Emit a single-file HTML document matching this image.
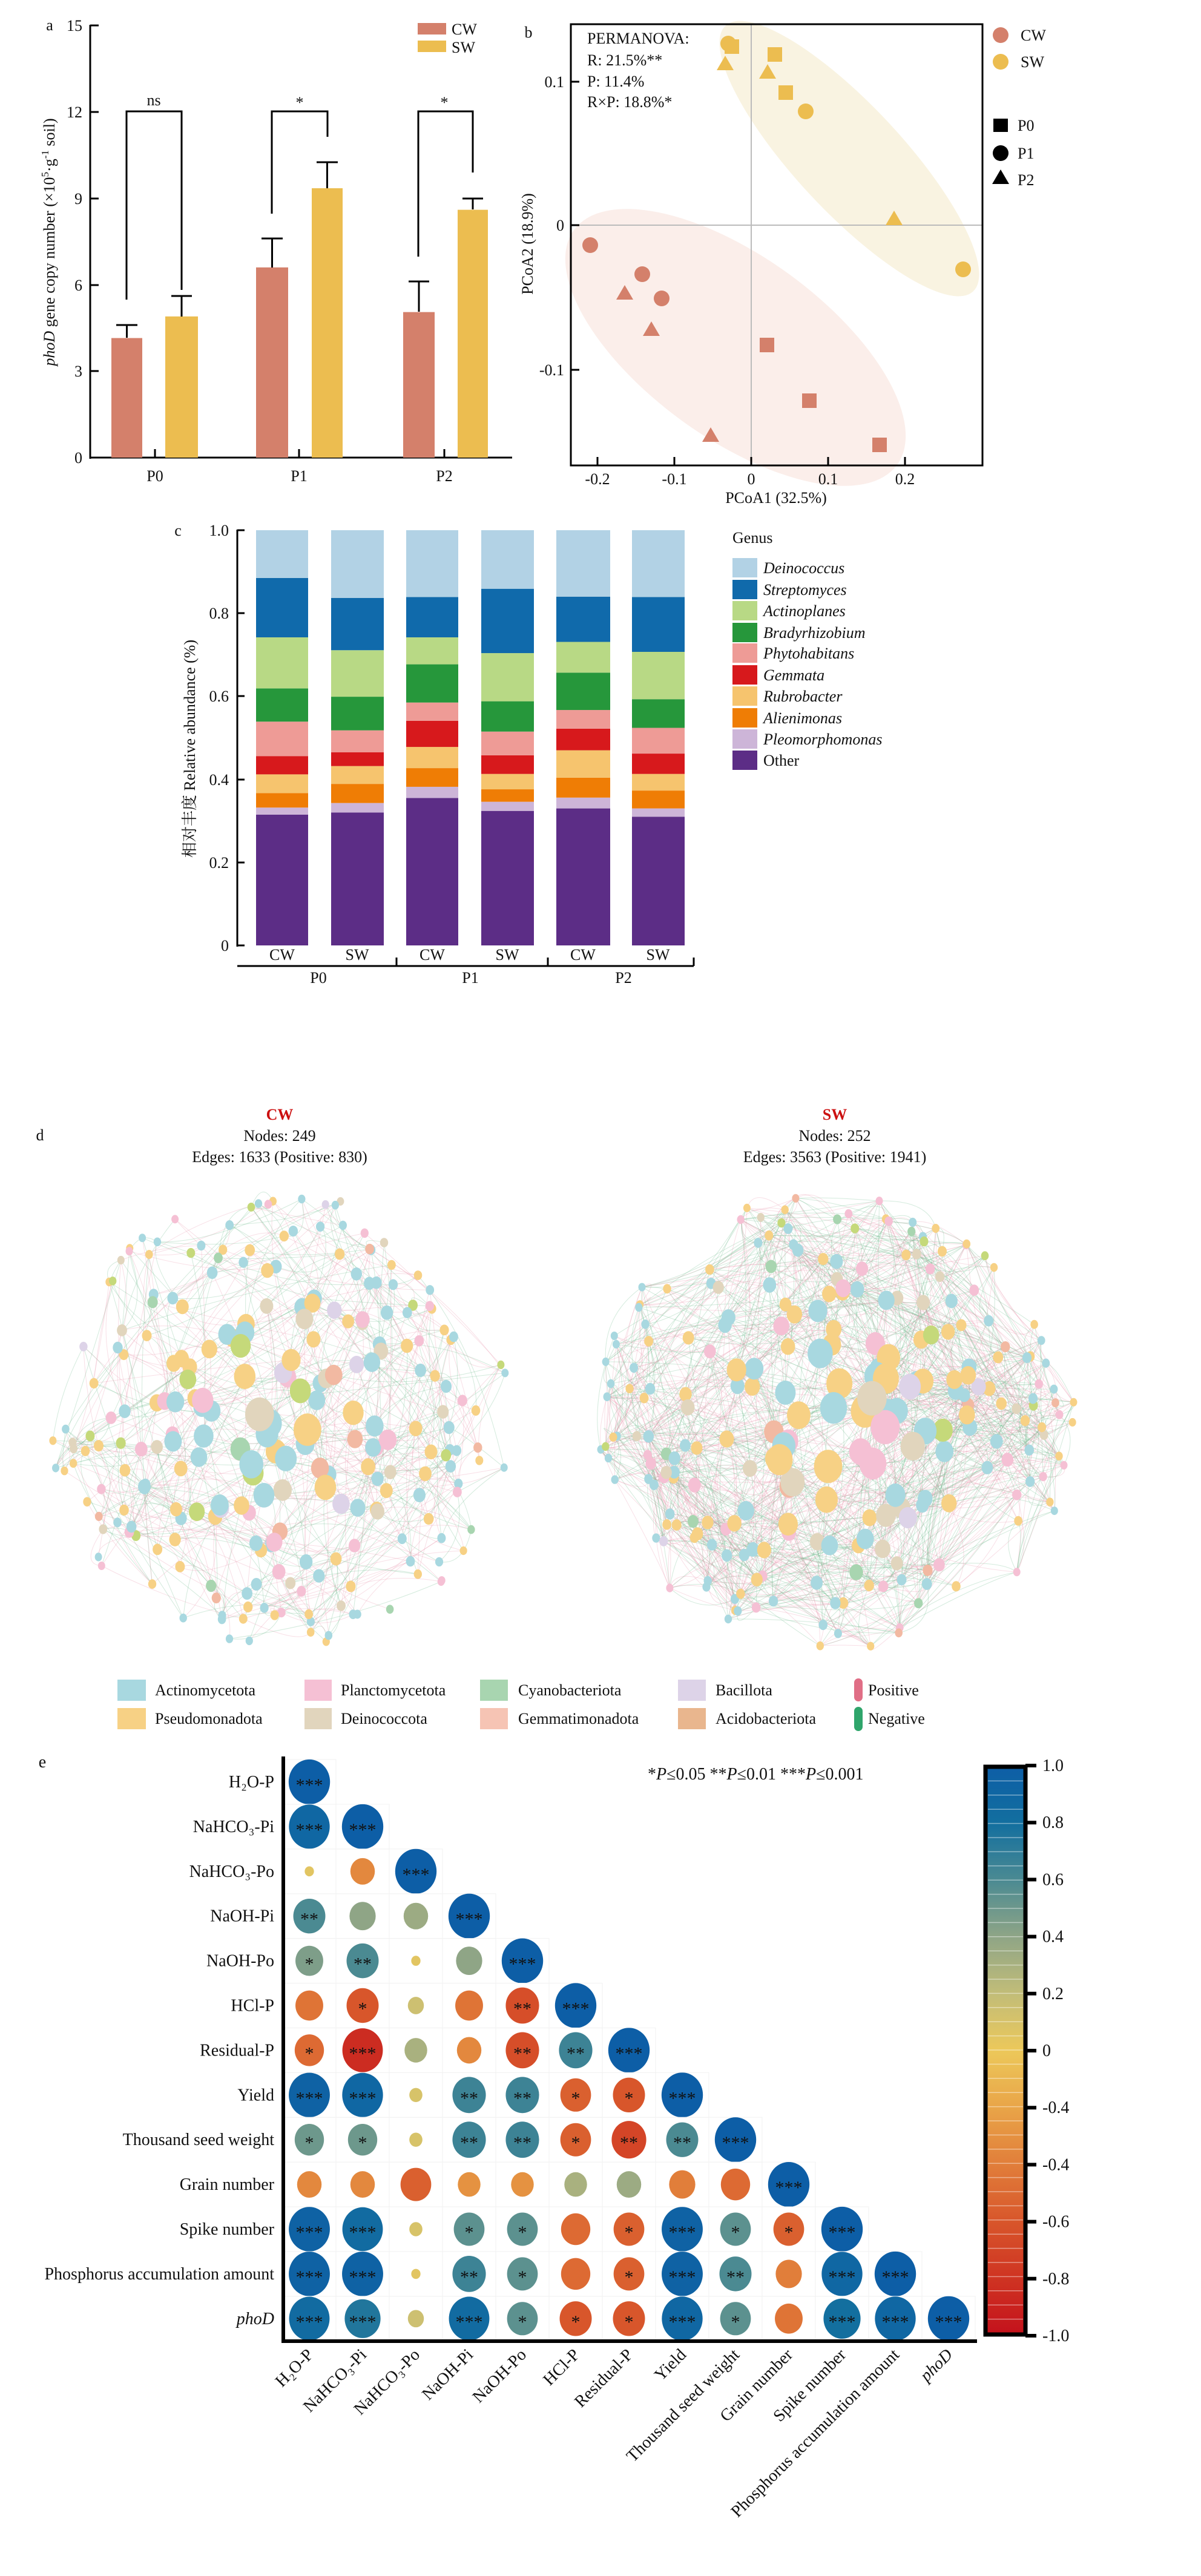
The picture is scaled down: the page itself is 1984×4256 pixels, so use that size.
<!DOCTYPE html>
<html><head><meta charset="utf-8">
<style>
html,body{margin:0;padding:0;background:#fff;}
svg{display:block;}
text{font-family:"Liberation Serif","Noto Serif CJK SC",serif;fill:#111;}
</style></head>
<body>
<svg id="s" width="1984" height="4256" viewBox="0 0 1984 4256" xmlns="http://www.w3.org/2000/svg">
<rect width="1984" height="4256" fill="#fff"/>

<!-- ===== Panel a ===== -->
<g font-size="26">
<text x="82" y="50" text-anchor="middle">a</text>
<g stroke="#000" stroke-width="3" fill="none">
<line x1="149" y1="41" x2="149" y2="758"/>
<line x1="148" y1="756" x2="846" y2="756"/>
<line x1="149" y1="42" x2="163" y2="42"/>
<line x1="149" y1="185" x2="163" y2="185"/>
<line x1="149" y1="328" x2="163" y2="328"/>
<line x1="149" y1="471" x2="163" y2="471"/>
<line x1="149" y1="613" x2="163" y2="613"/>
<line x1="256" y1="756" x2="256" y2="742"/>
<line x1="494" y1="756" x2="494" y2="742"/>
<line x1="734" y1="756" x2="734" y2="742"/>
</g>
<g text-anchor="end">
<text x="136" y="51">15</text><text x="136" y="194">12</text><text x="136" y="337">9</text>
<text x="136" y="480">6</text><text x="136" y="622">3</text><text x="136" y="765">0</text>
</g>
<g text-anchor="middle">
<text x="256" y="795">P0</text><text x="494" y="795">P1</text><text x="734" y="795">P2</text>
</g>
<rect x="184" y="558.5" width="51" height="197.5" fill="#d4806b"/>
<rect x="273" y="522.8" width="54" height="233.2" fill="#ecbd50"/>
<rect x="423" y="441.8" width="53" height="314.2" fill="#d4806b"/>
<rect x="515" y="311" width="51" height="445" fill="#ecbd50"/>
<rect x="666" y="515.6" width="52" height="240.4" fill="#d4806b"/>
<rect x="756" y="346.6" width="50" height="409.4" fill="#ecbd50"/>
<g stroke="#000" stroke-width="3" fill="none">
<path d="M209.5 558 V537 M192 537 H227"/>
<path d="M300 523 V489 M283 489 H317"/>
<path d="M449.5 442 V394 M432 394 H467"/>
<path d="M540.5 311 V268 M523 268 H558"/>
<path d="M692 515 V465 M675 465 H709"/>
<path d="M781 346 V328 M764 328 H798"/>
<path d="M209 495 V184 H300 V479"/>
<path d="M449 353 V184 H541 V226"/>
<path d="M691 424 V184 H781 V285"/>
</g>
<text x="254" y="174" text-anchor="middle">ns</text>
<text x="495" y="178" text-anchor="middle">*</text>
<text x="734" y="178" text-anchor="middle">*</text>
<rect x="690" y="38" width="47" height="19" fill="#d4806b"/>
<rect x="690" y="67" width="47" height="19" fill="#ecbd50"/>
<text x="746" y="57">CW</text><text x="746" y="87">SW</text>
<text transform="translate(90,400) rotate(-90)" text-anchor="middle"><tspan font-style="italic">phoD</tspan> gene copy number (×10<tspan font-size="17" dy="-10">5</tspan><tspan dy="10">·g</tspan><tspan font-size="17" dy="-10">-1</tspan><tspan dy="10"> soil)</tspan></text>
</g>

<!-- ===== Panel b ===== -->
<g font-size="26">
<text x="873" y="62" text-anchor="middle">b</text>
<ellipse cx="1403" cy="262" rx="300" ry="88" transform="rotate(47 1403 262)" fill="#f9f3e1"/>
<ellipse cx="1215" cy="574" rx="330" ry="150" transform="rotate(36 1215 574)" fill="#fbeeea"/>
<g stroke="#bbb" stroke-width="2">
<line x1="1241" y1="40" x2="1241" y2="769"/><line x1="943" y1="372" x2="1623" y2="372"/>
</g>
<rect x="943" y="40" width="680" height="729" fill="none" stroke="#000" stroke-width="3"/>
<g stroke="#000" stroke-width="3">
<line x1="943" y1="135" x2="957" y2="135"/><line x1="943" y1="372" x2="957" y2="372"/><line x1="943" y1="611" x2="957" y2="611"/>
<line x1="987" y1="769" x2="987" y2="755"/><line x1="1114" y1="769" x2="1114" y2="755"/><line x1="1241" y1="769" x2="1241" y2="755"/><line x1="1368" y1="769" x2="1368" y2="755"/><line x1="1495" y1="769" x2="1495" y2="755"/>
</g>
<g text-anchor="end"><text x="932" y="144">0.1</text><text x="932" y="381">0</text><text x="932" y="620">-0.1</text></g>
<g text-anchor="middle"><text x="987" y="800">-0.2</text><text x="1114" y="800">-0.1</text><text x="1241" y="800">0</text><text x="1368" y="800">0.1</text><text x="1495" y="800">0.2</text>
<text x="1282" y="831">PCoA1 (32.5%)</text>
<text transform="translate(880,403) rotate(-90)">PCoA2 (18.9%)</text></g>
<text x="970" y="72">PERMANOVA:</text>
<text x="970" y="108">R:  21.5%**</text>
<text x="970" y="143">P:   11.4%</text>
<text x="970" y="177">R×P: 18.8%*</text>
<g fill="#ecbd50">
<circle cx="1203" cy="72" r="13"/><rect x="1197" y="65" width="24" height="24"/><rect x="1268" y="78" width="24" height="24"/>
<polygon points="1198,92 1184,116 1212,116"/><polygon points="1268,106 1254,130 1282,130"/>
<rect x="1286" y="141" width="24" height="24"/><circle cx="1331" cy="184" r="13"/>
<polygon points="1477,348 1463,372 1491,372"/><circle cx="1591" cy="445" r="13"/>
</g>
<g fill="#d4806b">
<circle cx="975" cy="405" r="13"/><circle cx="1061" cy="453" r="13"/><circle cx="1093" cy="493" r="13"/>
<polygon points="1032,471 1018,495 1046,495"/><polygon points="1076,531 1062,555 1090,555"/>
<rect x="1255" y="558" width="24" height="24"/><rect x="1325" y="650" width="24" height="24"/>
<polygon points="1174,706 1160,730 1188,730"/><rect x="1441" y="723" width="24" height="24"/>
</g>
<circle cx="1653" cy="58" r="13" fill="#d4806b"/><circle cx="1653" cy="102" r="13" fill="#ecbd50"/>
<text x="1686" y="67">CW</text><text x="1686" y="111">SW</text>
<rect x="1641" y="196" width="24" height="22" fill="#000"/>
<circle cx="1653" cy="253" r="13" fill="#000"/>
<polygon points="1653,280 1639,304 1667,304" fill="#000"/>
<text x="1681" y="216">P0</text><text x="1681" y="262">P1</text><text x="1681" y="306">P2</text>
</g>

<!-- ===== Panel c ===== -->
<g font-size="26" id="pc">
<text x="294" y="885" text-anchor="middle">c</text>
<g stroke="#000" stroke-width="3">
<line x1="392" y1="875" x2="392" y2="1564"/>
<line x1="392" y1="876" x2="404" y2="876"/><line x1="392" y1="1013" x2="404" y2="1013"/><line x1="392" y1="1150" x2="404" y2="1150"/><line x1="392" y1="1288" x2="404" y2="1288"/><line x1="392" y1="1425" x2="404" y2="1425"/><line x1="392" y1="1562" x2="404" y2="1562"/>
<line x1="392" y1="1596" x2="1146" y2="1596"/>
<line x1="655" y1="1596" x2="655" y2="1582"/><line x1="905" y1="1596" x2="905" y2="1582"/><line x1="1146" y1="1596" x2="1146" y2="1582"/>
</g>
<g text-anchor="end"><text x="378" y="885">1.0</text><text x="378" y="1022">0.8</text><text x="378" y="1159">0.6</text><text x="378" y="1297">0.4</text><text x="378" y="1434">0.2</text><text x="378" y="1571">0</text></g>
<g text-anchor="middle">
<text x="466" y="1586">CW</text><text x="590" y="1586">SW</text><text x="714" y="1586">CW</text><text x="838" y="1586">SW</text><text x="963" y="1586">CW</text><text x="1087" y="1586">SW</text>
<text x="526" y="1624">P0</text><text x="777" y="1624">P1</text><text x="1030" y="1624">P2</text>
<text transform="translate(322,1237) rotate(-90)">相对丰度 Relative abundance (%)</text>
</g>
<text x="1210" y="897">Genus</text>
</g>

<!-- ===== Panel d ===== -->
<g font-size="26" text-anchor="middle">
<text x="66" y="1884">d</text>
<text x="462" y="1850" font-weight="bold" style="fill:#cc1111">CW</text>
<text x="462" y="1885">Nodes: 249</text>
<text x="462" y="1920">Edges: 1633 (Positive: 830)</text>
<text x="1379" y="1850" font-weight="bold" style="fill:#cc1111">SW</text>
<text x="1379" y="1885">Nodes: 252</text>
<text x="1379" y="1920">Edges: 3563 (Positive: 1941)</text>
</g>
<g id="net"></g>
<g font-size="26">
<rect x="194" y="2775" width="47" height="35" fill="#a8d8e0"/><text x="256" y="2801">Actinomycetota</text>
<rect x="503" y="2775" width="45" height="35" fill="#f5c0d4"/><text x="563" y="2801">Planctomycetota</text>
<rect x="793" y="2775" width="46" height="35" fill="#a8d5b0"/><text x="856" y="2801">Cyanobacteriota</text>
<rect x="1120" y="2775" width="46" height="35" fill="#ddd3e8"/><text x="1182" y="2801">Bacillota</text>
<rect x="1411" y="2773" width="14" height="38" rx="7" fill="#e06e86"/><text x="1434" y="2801">Positive</text>
<rect x="194" y="2822" width="47" height="35" fill="#f7d185"/><text x="256" y="2848">Pseudomonadota</text>
<rect x="503" y="2822" width="45" height="35" fill="#e1d5bd"/><text x="563" y="2848">Deinococcota</text>
<rect x="793" y="2822" width="46" height="35" fill="#f6c4b4"/><text x="856" y="2848">Gemmatimonadota</text>
<rect x="1120" y="2822" width="46" height="35" fill="#e9b68e"/><text x="1182" y="2848">Acidobacteriota</text>
<rect x="1411" y="2820" width="14" height="40" rx="7" fill="#2fa56b"/><text x="1434" y="2848">Negative</text>
</g>

<!-- ===== Panel e ===== -->
<defs>
<linearGradient id="cb" x1="0" y1="0" x2="0" y2="1">
<stop offset="0" stop-color="#0d5ea6"/><stop offset="0.1" stop-color="#136f9f"/><stop offset="0.2" stop-color="#4b8a92"/>
<stop offset="0.3" stop-color="#8fa586"/><stop offset="0.4" stop-color="#c2bd78"/><stop offset="0.5" stop-color="#ecc85a"/>
<stop offset="0.6" stop-color="#e9a548"/><stop offset="0.7" stop-color="#e17e3a"/><stop offset="0.8" stop-color="#d8562b"/>
<stop offset="0.9" stop-color="#cf3422"/><stop offset="1" stop-color="#c4121c"/>
</linearGradient>
</defs>
<g font-size="28" id="pe">
<text x="70" y="2920" text-anchor="middle">e</text>
<text x="1070" y="2940"><tspan>*</tspan><tspan font-style="italic">P</tspan><tspan>≤0.05   **</tspan><tspan font-style="italic">P</tspan><tspan>≤0.01   ***</tspan><tspan font-style="italic">P</tspan><tspan>≤0.001</tspan></text>
<rect x="1628" y="2919" width="66" height="938" fill="url(#cb)" stroke="#000" stroke-width="7"/>
</g>
<g stroke="#000" stroke-width="6">
<line x1="468" y1="2902" x2="468" y2="3870"/><line x1="465" y1="3868" x2="1614" y2="3868"/>
</g>
</svg>
<script>
(function(){
var NS="http://www.w3.org/2000/svg",S=document.getElementById('s');
function el(t,a,p){var e=document.createElementNS(NS,t);for(var k in a)e.setAttribute(k,a[k]);(p||S).appendChild(e);return e;}
var xs=[[423,86],[547,87],[671,86],[795,87],[919,89],[1044,87]];
var cols=["#5c2d86","#cdb5d8","#ef7d05","#f6c46e","#d7191c","#ee9b96","#26973b","#b8d985","#106aab","#b2d2e5"];
var B=[[.315,.332,.367,.412,.456,.539,.619,.742,.885,1],[.32,.343,.389,.432,.465,.518,.599,.711,.837,1],[.355,.382,.427,.478,.541,.585,.677,.742,.839,1],[.324,.346,.376,.413,.458,.515,.588,.704,.859,1],[.33,.356,.404,.47,.522,.567,.657,.731,.84,1],[.31,.33,.373,.413,.462,.524,.593,.707,.839,1]];
var pc=document.getElementById('pc');
for(var b=0;b<6;b++){var prev=0;for(var k=0;k<10;k++){var v=B[b][k];var y1=1562-v*686,y0=1562-prev*686;el('rect',{x:xs[b][0],y:y1,width:xs[b][1],height:y0-y1,fill:cols[k]},pc);prev=v;}}
var names=["Deinococcus","Streptomyces","Actinoplanes","Bradyrhizobium","Phytohabitans","Gemmata","Rubrobacter","Alienimonas","Pleomorphomonas","Other"];
var ly=[938,974,1009,1045,1079,1115,1150,1186,1221,1256];
for(var i=0;i<10;i++){el('rect',{x:1210,y:ly[i]-16,width:41,height:32,fill:cols[9-i]},pc);var t=el('text',{x:1261,y:ly[i]+9},pc);t.textContent=names[i];if(i<9)t.setAttribute('font-style','italic');}
var seed=12345;function R(){seed=(seed*1103515245+12345)%2147483648;return seed/2147483648;}
var net=document.getElementById('net');
var pal=[["#a8d8e0",.38],["#f7d185",.30],["#f5c0d4",.12],["#e1d5bd",.06],["#c5d97a",.06],["#a8d5b0",.03],["#ddd3e8",.02],["#f2b9a2",.03]];
function pick(){var r=R(),a=0;for(var i=0;i<pal.length;i++){a+=pal[i][1];if(r<a)return pal[i][0];}return pal[0][0];}
function network(cx,cy,rx,ry,N,E,maxr,dense){
 var nodes=[];
 for(var i=0;i<N;i++){var u=Math.pow(R(),dense),th=R()*6.283;var x=cx+Math.cos(th)*u*rx*0.96,y=cy+Math.sin(th)*u*ry*0.96;
  var r=7+(maxr-7)*Math.pow(Math.max(0,1-u),1.4)*(0.5+0.6*R());nodes.push([x,y,r,pick()]);}
 var g=el('g',{fill:'none','stroke-width':1},net);
 for(var e=0;e<E;e++){var a=nodes[Math.floor(R()*N)],c=null,bd=1e9;
  for(var q=0;q<4;q++){var cc=nodes[Math.floor(R()*N)];var d=Math.hypot(cc[0]-a[0],cc[1]-a[1]);if(d<bd&&cc!==a){bd=d;c=cc;}}
  if(!c)continue;
  var mx=(a[0]+c[0])/2+(R()-.5)*80,my=(a[1]+c[1])/2+(R()-.5)*80;
  el('path',{d:'M'+a[0].toFixed(1)+' '+a[1].toFixed(1)+' Q'+mx.toFixed(1)+' '+my.toFixed(1)+' '+c[0].toFixed(1)+' '+c[1].toFixed(1),stroke:R()<.5?'rgba(232,150,172,0.3)':'rgba(110,185,140,0.3)'},g);}
 nodes.sort(function(p,q){return p[2]-q[2];});
 for(var i=0;i<N;i++){var n=nodes[i];el('ellipse',{cx:n[0].toFixed(1),cy:n[1].toFixed(1),rx:(n[2]*0.85).toFixed(1),ry:n[2].toFixed(1),fill:n[3]},net);}
}
network(462,2349,399,398,249,800,30,0.5);
network(1380,2352,412,400,252,1800,34,0.45);
var pe=document.getElementById('pe');
var rows=["H₂O-P","NaHCO₃-Pi","NaHCO₃-Po","NaOH-Pi","NaOH-Po","HCl-P","Residual-P","Yield","Thousand seed weight","Grain number","Spike number","Phosphorus accumulation amount","phoD"];
var M=[[[1,3]],[[.9,3],[1,3]],[[.05,0],[-.35,0],[1,3]],[[.6,2],[.4,0],[.35,0],[1,3]],[[.45,1],[.6,2],[.05,0],[.4,0],[1,3]],
[[-.45,0],[-.6,1],[.15,0],[-.45,0],[-.65,2],[1,3]],[[-.5,1],[-.85,3],[.3,0],[-.35,0],[-.65,2],[.65,2],[1,3]],
[[.95,3],[.9,3],[.1,0],[.65,2],[.65,2],[-.55,1],[-.6,1],[1,3]],[[.5,1],[.5,1],[.1,0],[.65,2],[.65,2],[-.55,1],[-.7,2],[.6,2],[1,3]],
[[-.35,0],[-.35,0],[-.55,0],[-.3,0],[-.3,0],[.3,0],[.35,0],[-.4,0],[-.5,0],[1,3]],
[[.95,3],[.85,3],[.1,0],[.55,1],[.55,1],[-.5,0],[-.55,1],[.95,3],[.55,1],[-.55,1],[1,3]],
[[.95,3],[.95,3],[.05,0],[.65,2],[.55,1],[-.5,0],[-.55,1],[.95,3],[.6,2],[-.4,0],[.9,3],[1,3]],
[[.85,3],[.75,3],[.15,0],[.85,3],[.55,1],[-.6,1],[-.6,1],[.9,3],[.55,1],[-.45,0],[.8,3],[.9,3],[1,3]]];
var cs=[[1,[13,94,166]],[.8,[19,111,159]],[.6,[75,138,146]],[.4,[143,165,134]],[.2,[194,189,120]],[0,[236,200,90]],[-.2,[233,165,72]],[-.4,[225,126,58]],[-.6,[216,86,43]],[-.8,[207,52,34]],[-1,[196,18,28]]];
function col(v){for(var i=0;i<10;i++){var a=cs[i],b=cs[i+1];if(v<=a[0]&&v>=b[0]){var t=(a[0]-v)/(a[0]-b[0]);return 'rgb('+[0,1,2].map(function(k){return Math.round(a[1][k]+(b[1][k]-a[1][k])*t);}).join(',')+')';}}return '#ccc';}
for(var j=0;j<13;j++){var cy=2944+73.9*j;
 for(var i=0;i<=j;i++){var cx=511+88*i;el('rect',{x:cx-44,y:cy-37,width:88,height:74,fill:'none',stroke:'#f2f2f2','stroke-width':1},pe);
  var v=M[j][i][0],s=M[j][i][1];var r=36*Math.sqrt(Math.abs(v));if(Math.abs(v)>0.8)r=36*(0.85+0.15*Math.abs(v));
  el('ellipse',{cx:cx,cy:cy,rx:r*0.95,ry:r*1.03,fill:col(v)},pe);
  if(s){var t=el('text',{x:cx,y:cy+15,'text-anchor':'middle','font-size':30},pe);t.textContent='***'.slice(0,s);}}
 var lt=el('text',{x:453,y:cy+9,'text-anchor':'end'},pe);lt.textContent=rows[j];if(j==12)lt.setAttribute('font-style','italic');
 var ct=el('text',{'text-anchor':'end',transform:'translate('+(511+88*j+8)+',3892) rotate(-45)'},pe);ct.textContent=rows[j];if(j==12)ct.setAttribute('font-style','italic');
}
var labs=["1.0","0.8","0.6","0.4","0.2","0","-0.4","-0.4","-0.6","-0.8","-1.0"];
for(var k=0;k<11;k++){var y=2917+94.2*k;el('line',{x1:1694,y1:y,x2:1712,y2:y,stroke:'#000','stroke-width':6},pe);var t=el('text',{x:1722,y:y+9},pe);t.textContent=labs[k];}
for(var k=1;k<40;k++){var y=2919+k*23.4;el('line',{x1:1632,y1:y,x2:1690,y2:y,stroke:'rgba(255,255,255,0.45)','stroke-width':1.5},pe);}
})();
</script>
</body></html>
